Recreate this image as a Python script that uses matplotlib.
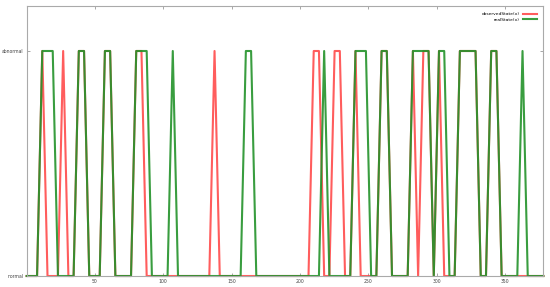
import numpy as np
import matplotlib.pyplot as plt

# time between two samples
step = 3.82

# 0 = normal, 1 = abnormal, one entry per sample
realState = [0, 0, 0, 1, 1, 1, 0, 0, 0, 0,
             1, 1, 0, 0, 0, 1, 1, 0, 0, 0,
             0, 1, 1, 1, 0, 0, 0, 0, 1, 0,
             0, 0, 0, 0, 0, 0, 0, 0, 0, 0,
             0, 0, 1, 1, 0, 0, 0, 0, 0, 0,
             0, 0, 0, 0, 0, 0, 0, 1, 0, 0,
             0, 0, 0, 1, 1, 1, 0, 0, 1, 1,
             0, 0, 0, 0, 1, 1, 1, 1, 0, 1,
             1, 0, 0, 1, 1, 1, 1, 0, 0, 1,
             1, 0, 0, 0, 0, 1, 0, 0, 0, 0]

observedState = [0, 0, 0, 1, 0, 0, 0, 1, 0, 0,
                 1, 1, 0, 0, 0, 1, 1, 0, 0, 0,
                 0, 1, 1, 0, 0, 0, 0, 0, 0, 0,
                 0, 0, 0, 0, 0, 0, 1, 0, 0, 0,
                 0, 0, 0, 0, 0, 0, 0, 0, 0, 0,
                 0, 0, 0, 0, 0, 1, 1, 0, 0, 1,
                 1, 0, 0, 1, 0, 0, 0, 0, 1, 1,
                 0, 0, 0, 0, 1, 0, 1, 1, 0, 1,
                 0, 0, 0, 1, 1, 1, 1, 0, 0, 1,
                 1, 0, 0, 0, 0, 0, 0, 0, 0, 0]

t = np.arange(len(realState)) * step

fig = plt.figure(figsize=(5.5, 2.87), dpi=100)
ax = fig.add_axes([0.0484, 0.0383, 0.9396, 0.9408])

ax.plot(t, observedState, color='#ff4040', lw=1.5, alpha=0.85,
        label='observedState(x)', clip_on=False)
ax.plot(t, realState, color='#23922a', lw=1.5, alpha=0.9,
        label='realState(x)', clip_on=False)

ax.set_xlim(0, t[-1])
ax.set_ylim(0, 1.2)
ax.set_xticks([50, 100, 150, 200, 250, 300, 350])
ax.set_yticks([0, 1], ['normal', 'abnormal'])
ax.tick_params(direction='in', top=True, right=True, length=2.5, width=0.6,
               color='#999999', labelcolor='#444444', labelsize=3.3, pad=2)
for s in ax.spines.values():
    s.set_color('#aaaaaa')
    s.set_linewidth(0.8)

ax.legend(loc='upper right', markerfirst=False, frameon=False, fontsize=3.2,
          handlelength=3.2, labelspacing=0.25, borderaxespad=1.0)

fig.savefig('out.png', dpi=100)
